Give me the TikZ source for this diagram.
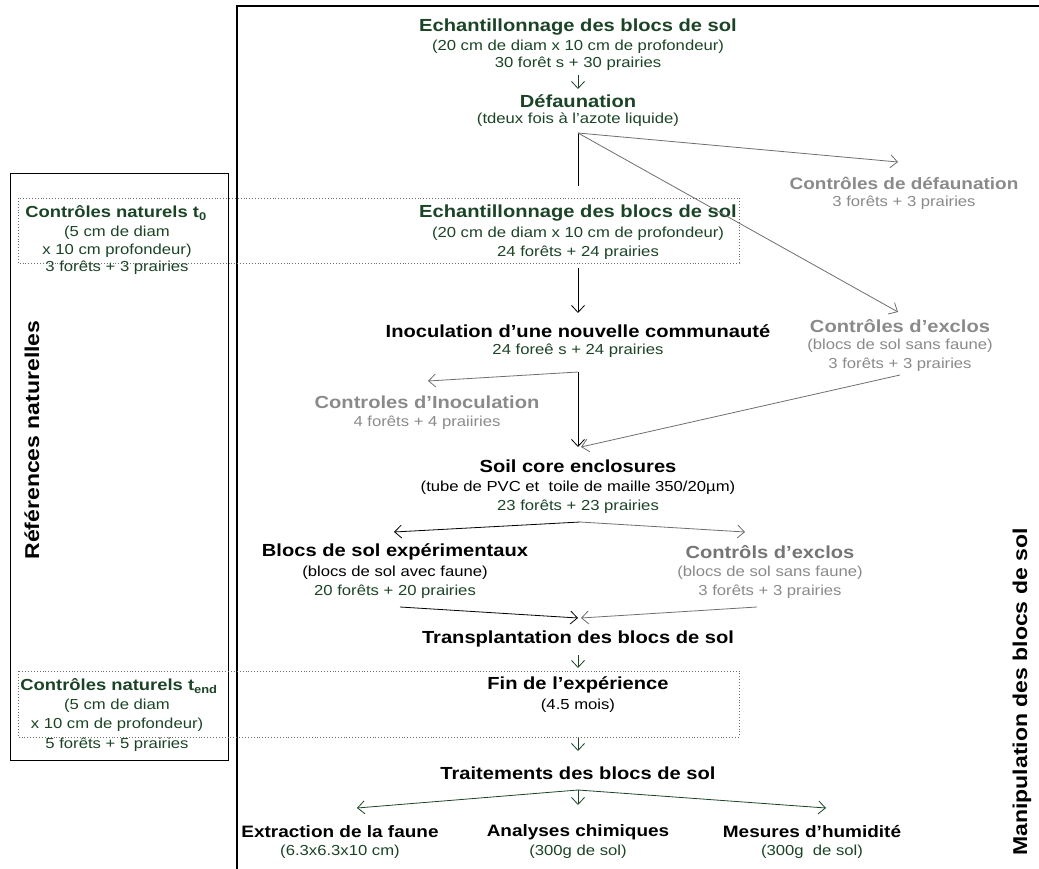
\documentclass[tikz,border=0pt]{standalone}
\usepackage{fontspec}
\setmainfont{Liberation Sans}[FakeStretch=1.15]
\usetikzlibrary{arrows.meta}
\definecolor{dg}{HTML}{1B4426}
\definecolor{gr}{HTML}{8A8A8A}
\definecolor{ga}{HTML}{6E6E6E}
\begin{document}
\begin{tikzpicture}[x=1pt,y=-1pt,
  every node/.style={inner sep=0pt,outer sep=0pt},
  tg/.style={font=\fontsize{17.5}{20}\selectfont\bfseries,text=dg},
  tb/.style={font=\fontsize{17.5}{20}\selectfont\bfseries,text=black},
  tgr/.style={font=\fontsize{17.5}{20}\selectfont\bfseries,text=gr},
  tbs/.style={font=\fontsize{16.5}{20}\selectfont\bfseries,text=black},
  sg/.style={font=\fontsize{14.5}{17}\selectfont,text=dg},
  sb/.style={font=\fontsize{14.5}{17}\selectfont,text=black},
  sgr/.style={font=\fontsize{14.5}{17}\selectfont,text=gr},
  rot/.style={font=\fontsize{20}{24}\selectfont\bfseries,text=black,rotate=90},
  arr/.style={-{Straight Barb[length=7pt,width=13pt]},line width=0.8pt},
  dotbox/.style={dotted,line width=0.9pt,draw=ga}]
\useasboundingbox (0,0) rectangle (1039,869);
% frames
\draw[line width=2.4pt] (1045,6) -- (237,6) -- (237,875);
\draw[line width=0.8pt] (10,173) rectangle (228,760);
\draw[dotbox] (18,198) rectangle (739,263);
\draw[dotbox] (18,671) rectangle (739,737);
% rotated labels
\node[rot] (refn) at (32,440) {Références naturelles};
\node[rot] (manip) at (1022,692) {Manipulation des blocs de sol};
% top group
\node[tg] (e1) at (578,27) {Echantillonnage des blocs de sol};
\node[sg] (e1a) at (578,47) {(20 cm de diam x 10 cm de profondeur)};
\node[sg] (e1b) at (578,64) {30 forêt s + 30 prairies};
\node[tg] (def) at (578,101) {Défaunation};
\node[sg] (defa) at (578,120) {(tdeux fois à l’azote liquide)};
\coordinate (a1s) at (578,75);
\coordinate (a1e) at (578,89);
\draw[arr,dg] (a1s) -- (a1e);
\coordinate (defo) at (578,133);
\node[font=\fontsize{16.5}{20}\selectfont\bfseries,text=gr] (cd) at (904,183) {Contrôles de défaunation};
\node[sgr] (cda) at (904,203) {3 forêts + 3 prairies};
\coordinate (cdin) at (898,162);
% t0 controls
\node[font=\fontsize{16}{20}\selectfont\bfseries,text=dg] (cn0) at (116,213) {Contrôles naturels t\textsubscript{0}};
\node[sg] (cn0a) at (117,233) {(5 cm de diam};
\node[sg] (cn0b) at (117,251) {x 10 cm profondeur)};
\node[sg] (cn0c) at (117,268) {3 forêts + 3 prairies};
% second sampling
\node[tg] (e2) at (578,213) {Echantillonnage des blocs de sol};
\node[sg] (e2a) at (578,234) {(20 cm de diam x 10 cm de profondeur)};
\node[sg] (e2b) at (578,253) {24 forêts + 24 prairies};
\coordinate (vend) at (578,186);
\draw[line width=0.8pt] (defo) -- (vend);
\draw[arr,ga] (defo) -- (cdin);
% exclos controls
\node[tgr] (ce) at (900,326) {Contrôles d’exclos};
\node[sgr] (cea) at (900,346) {(blocs de sol sans faune)};
\node[sgr] (ceb) at (900,365) {3 forêts + 3 prairies};
\coordinate (cein) at (898,312);
\draw[arr,ga] (defo) -- (cein);
% inoculation
\node[tb] (ino) at (578,331) {Inoculation d’une nouvelle communauté};
\node[sg] (inoa) at (578,351) {24 foreê s + 24 prairies};
\coordinate (e2out) at (578,268);
\coordinate (inoin) at (578,313);
\draw[arr] (e2out) -- (inoin);
\coordinate (inoo) at (578,372);
\node[tgr] (ci) at (427,402) {Controles d’Inoculation};
\node[sgr] (cia) at (427,423) {4 forêts + 4 praiiries};
\coordinate (ciin) at (428,381);
\draw[arr,ga] (inoo) -- (ciin);
% soil core
\node[tb] (soil) at (578,466) {Soil core enclosures};
\node[sb] (soila) at (578,488) {(tube de PVC et\ \ toile de maille 350/20µm)};
\node[sg] (soilb) at (578,507) {23 forêts + 23 prairies};
\coordinate (soilin) at (578,447);
\coordinate (ceout) at (900,375);
\draw[arr] (inoo) -- (soilin);
\draw[arr,ga] (ceout) -- ([xshift=3pt]soilin);
\coordinate (soilo) at (580,522);
% blocs
\node[tb] (bl) at (395,552) {Blocs de sol expérimentaux};
\node[sb] (bla) at (395,573) {(blocs de sol avec faune)};
\node[sg] (blb) at (395,592) {20 forêts + 20 prairies};
\node[font=\fontsize{17.5}{20}\selectfont\bfseries,text=gr!85!black] (cx) at (770,552) {Contrôls d’exclos};
\node[sgr] (cxa) at (770,573) {(blocs de sol sans faune)};
\node[sgr] (cxb) at (770,592) {3 forêts + 3 prairies};
\coordinate (blin) at (394,532);
\coordinate (cxin) at (745,532);
\draw[arr] (soilo) -- (blin);
\draw[arr,ga] (soilo) -- (cxin);
% transplantation
\node[tb] (tr) at (578,639) {Transplantation des blocs de sol};
\coordinate (blout) at (400,607);
\coordinate (cxout) at (757,607);
\coordinate (trin) at (578,618);
\draw[arr] (blout) -- (trin);
\draw[arr,ga] (cxout) -- ([xshift=3pt]trin);
% end controls
\node[font=\fontsize{16}{20}\selectfont\bfseries,text=dg] (cne) at (119,686) {Contrôles naturels t\textsubscript{end}};
\node[sg] (cnea) at (117,706) {(5 cm de diam};
\node[sg] (cneb) at (117,725) {x 10 cm de profondeur)};
\node[sg] (cnec) at (117,745) {5 forêts + 5 prairies};
\node[tb] (fin) at (578,685) {Fin de l’expérience};
\node[sb] (fina) at (578,706) {(4.5 mois)};
\coordinate (a2s) at (578,655);
\coordinate (a2e) at (578,668);
\draw[arr,dg] (a2s) -- (a2e);
% traitements
\node[tb] (trt) at (578,773) {Traitements des blocs de sol};
\coordinate (a3s) at (578,738);
\coordinate (a3e) at (578,751);
\draw[arr,dg] (a3s) -- (a3e);
\coordinate (trto) at (578,790);
\node[tbs] (ext) at (340,832) {Extraction de la faune};
\node[sg] (exta) at (340,852) {(6.3x6.3x10 cm)};
\node[tbs] (ana) at (578,832) {Analyses chimiques};
\node[sg] (anaa) at (578,852) {(300g de sol)};
\node[tbs] (mes) at (812,832) {Mesures d’humidité};
\node[sg] (mesa) at (812,852) {(300g\ \ de sol)};
\coordinate (extin) at (357,808);
\coordinate (anain) at (578,805);
\coordinate (mesin) at (826,808);
\draw[arr,dg] (trto) -- (extin);
\draw[arr,dg] (trto) -- (anain);
\draw[arr,dg] (trto) -- (mesin);
\end{tikzpicture}
\end{document}
